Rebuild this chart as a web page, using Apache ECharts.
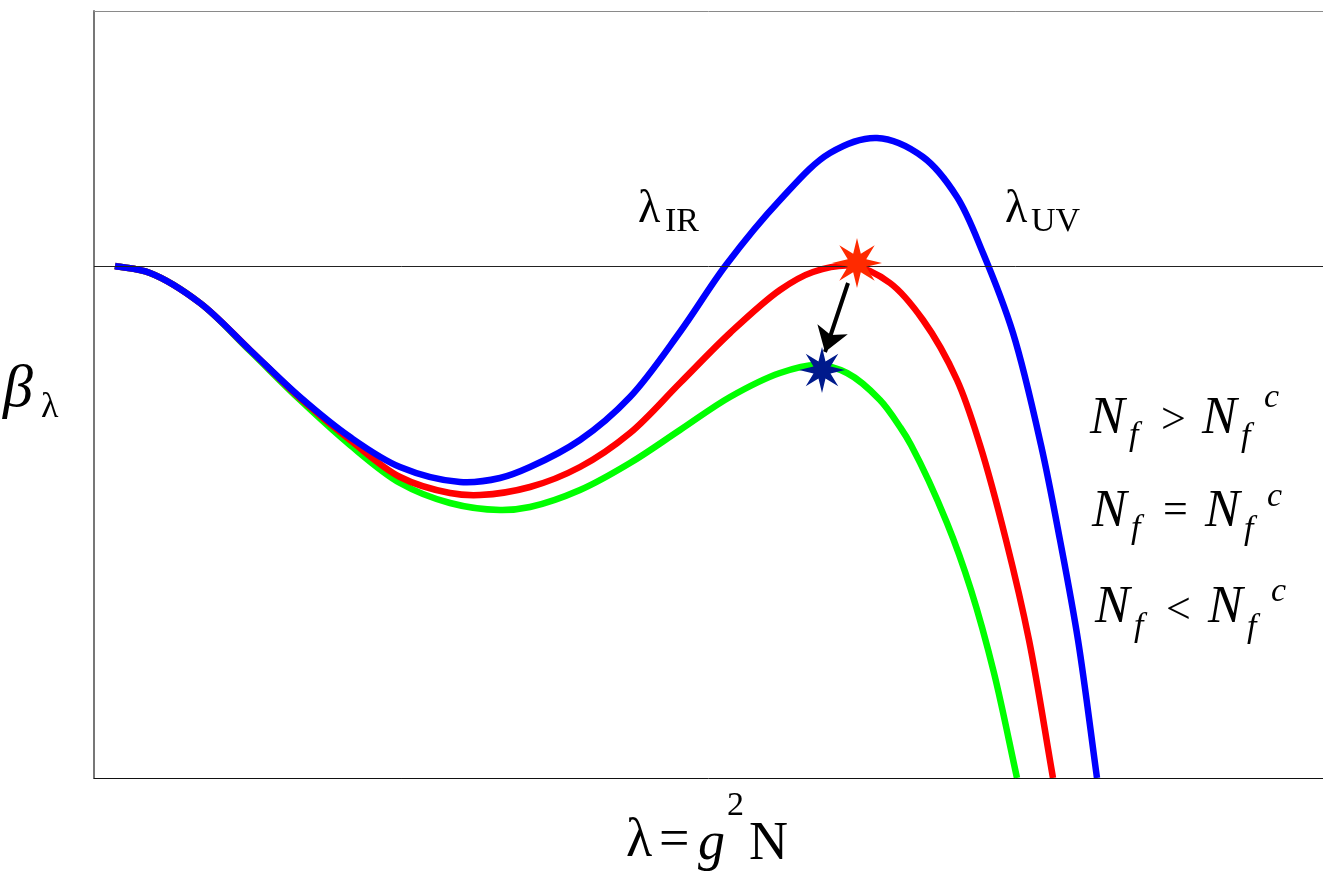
<!DOCTYPE html>
<html>
<head>
<meta charset="utf-8">
<script src="https://cdn.jsdelivr.net/npm/echarts@6/dist/echarts.min.js"></script>
<style>
  html, body { margin: 0; padding: 0; background: #fff; }
  #chart { width: 1323px; height: 874px; }
</style>
</head>
<body>
<div id="chart"></div>
<script>
// curves: [lambda, beta]
const greenCurve = [
  [0.21, 0], [0.56, -0.07], [1.06, -0.37], [1.56, -0.85], [2.06, -1.34], [2.56, -1.79],
  [3.06, -2.17], [3.56, -2.37], [4.06, -2.44], [4.36, -2.41], [4.86, -2.24], [5.36, -1.97],
  [5.86, -1.64], [6.36, -1.31], [6.86, -1.07], [7.23, -0.99], [7.53, -1.07], [7.86, -1.34],
  [8.06, -1.61], [8.17, -1.79], [8.53, -2.57], [8.77, -3.24], [9.00, -4.07], [9.23, -5.12]
]
const redCurve = [
  [0.21, 0], [0.56, -0.07], [1.06, -0.37], [1.56, -0.84], [2.06, -1.32], [2.56, -1.74],
  [3.06, -2.11], [3.56, -2.27], [3.86, -2.29], [4.36, -2.21], [4.86, -2.01], [5.36, -1.67],
  [5.86, -1.17], [6.36, -0.67], [6.86, -0.24], [7.19, -0.06], [7.59, 0], [7.96, -0.17],
  [8.29, -0.54], [8.63, -1.14], [8.86, -1.79], [9.12, -2.74], [9.35, -3.74], [9.59, -5.12]
]
const blueCurve = [
  [0.21, 0], [0.56, -0.07], [1.06, -0.37], [1.56, -0.84], [2.06, -1.31], [2.56, -1.71],
  [3.06, -2.01], [3.66, -2.16], [4.06, -2.12], [4.36, -2.01], [4.86, -1.74],
  [5.36, -1.31], [5.86, -0.66], [6.32, 0.01], [6.86, 0.66], [7.36, 1.13], [7.83, 1.28],
  [8.29, 1.09], [8.63, 0.69], [8.89, 0.13], [9.19, -0.67], [9.47, -1.79], [9.66, -2.74],
  [9.84, -3.74], [10.03, -5.12]
]
const redStar = [[7.63, 0.03]]
const blueStar = [[7.28, -1.04]]
const arrowFrom = [7.54, -0.17]
const arrowTo = [7.31, -0.86]

const serif = 'Liberation Serif'

// 8-pointed star shape
function starPath(n, inner) {
  let d = ''
  for (let i = 0; i < n * 2; i++) {
    const r = i % 2 === 0 ? 1 : inner
    const a = Math.PI * i / n - Math.PI / 2
    const px = (r * Math.cos(a) * 50 + 50).toFixed(2)
    const py = (r * Math.sin(a) * 50 + 50).toFixed(2)
    d += (i === 0 ? 'M' : 'L') + px + ' ' + py + ' '
  }
  return 'path://' + d + 'Z'
}

// centripetal catmull-rom through the points, as one bezier path
function smoothPath(pts) {
  const n = pts.length
  const get = (i) => {
    if (i < 0) return [2 * pts[0][0] - pts[1][0], 2 * pts[0][1] - pts[1][1]]
    if (i >= n) return [2 * pts[n - 1][0] - pts[n - 2][0], 2 * pts[n - 1][1] - pts[n - 2][1]]
    return pts[i]
  }
  const dist = (a, b) => Math.max(Math.sqrt(Math.hypot(a[0] - b[0], a[1] - b[1])), 1e-6)
  let d = 'M' + pts[0][0] + ' ' + pts[0][1]
  for (let i = 0; i < n - 1; i++) {
    const p0 = get(i - 1), p1 = get(i), p2 = get(i + 1), p3 = get(i + 2)
    const a1 = dist(p0, p1), a2 = dist(p1, p2), a3 = dist(p2, p3)
    const b1 = [0, 1].map(k => (a1 * a1 * p2[k] - a2 * a2 * p0[k] + (2 * a1 * a1 + 3 * a1 * a2 + a2 * a2) * p1[k]) / (3 * a1 * (a1 + a2)))
    const b2 = [0, 1].map(k => (a3 * a3 * p1[k] - a2 * a2 * p3[k] + (2 * a3 * a3 + 3 * a3 * a2 + a2 * a2) * p2[k]) / (3 * a3 * (a3 + a2)))
    d += ' C' + b1[0] + ' ' + b1[1] + ' ' + b2[0] + ' ' + b2[1] + ' ' + p2[0] + ' ' + p2[1]
  }
  return d
}

function curveSeries(curve, color, z) {
  return {
    type: 'custom', data: curve, z: z, clip: true,
    encode: { x: 0, y: 1 },
    renderItem: function (params, api) {
      if (params.dataIndex !== 0) return
      const pts = curve.map(p => api.coord(p))
      return {
        type: 'path',
        shape: { pathData: smoothPath(pts) },
        style: { fill: null, stroke: color, lineWidth: 6.5, lineCap: 'butt', lineJoin: 'round' }
      }
    }
  }
}

function t(x, y, text, size, italic) {
  return {
    type: 'text', left: x, top: y - size / 2, z: 100,
    style: {
      text: text, fill: '#000', fontFamily: serif, fontSize: size,
      fontStyle: italic ? 'italic' : 'normal', lineHeight: size
    }
  }
}

const labels = [
  t(3, 390, 'β', 60, true), t(41, 408, 'λ', 36, false),
  t(626, 842, 'λ', 54, false), t(659, 842, '=', 54, false), t(698, 845, 'g', 54, true),
  t(727, 806, '2', 34, false), t(749, 845, 'N', 54, false),
  t(638, 210, 'λ', 46, false), t(665, 222, 'IR', 34, false),
  t(1005, 210, 'λ', 46, false), t(1031, 222, 'UV', 34, false),

  t(1090, 419, 'N', 52, true), t(1129, 436, 'f', 34, true), t(1161, 421, '>', 44, false),
  t(1202, 419, 'N', 52, true), t(1241, 437, 'f', 34, true), t(1264, 398, 'c', 34, true),

  t(1092, 512, 'N', 52, true), t(1131, 529, 'f', 34, true), t(1163, 511, '=', 44, false),
  t(1205, 512, 'N', 52, true), t(1244, 530, 'f', 34, true), t(1267, 497, 'c', 34, true),

  t(1095, 608, 'N', 52, true), t(1134, 627, 'f', 34, true), t(1166, 611, '<', 44, false),
  t(1208, 608, 'N', 52, true), t(1247, 628, 'f', 34, true), t(1271, 592, 'c', 34, true)
]

const chart = echarts.init(document.getElementById('chart'))
chart.setOption({
  animation: false,
  backgroundColor: '#fff',
  grid: { left: 94, right: 0, top: 11, bottom: 96 },
  xAxis: [
    {
      type: 'value', min: 0, max: 12.29,
      axisLine: { onZero: false, lineStyle: { color: '#111', width: 1 } },
      axisTick: { show: false }, axisLabel: { show: false }, splitLine: { show: false }
    },
    {
      type: 'value', min: 0, max: 12.29, position: 'top',
      axisLine: { onZero: false, lineStyle: { color: '#8a8a8a', width: 1 } },
      axisTick: { show: false }, axisLabel: { show: false }, splitLine: { show: false }
    }
  ],
  yAxis: {
    type: 'value', min: -5.12, max: 2.55,
    axisLine: { show: true, onZero: false, lineStyle: { color: '#777', width: 2 } },
    axisTick: { show: false }, axisLabel: { show: false }, splitLine: { show: false }
  },
  series: [
    {
      type: 'scatter', data: [], z: 1,
      markLine: {
        silent: true, symbol: 'none', label: { show: false },
        lineStyle: { color: '#222', width: 1, type: 'solid' },
        data: [{ yAxis: 0 }]
      }
    },
    curveSeries(greenCurve, '#00ff00', 2),
    curveSeries(redCurve, '#ff0000', 3),
    curveSeries(blueCurve, '#0000ff', 4),
    {
      type: 'scatter', data: redStar, symbol: starPath(8, 0.4), symbolSize: 50,
      itemStyle: { color: '#ff2a00', opacity: 1 }, z: 10
    },
    {
      type: 'scatter', data: blueStar, symbol: starPath(8, 0.4), symbolSize: 46,
      itemStyle: { color: '#001a8c', opacity: 1 }, z: 10,
      markLine: {
        silent: true, symbol: ['none', 'arrow'], symbolSize: 24, label: { show: false },
        lineStyle: { color: '#000', width: 4, type: 'solid' },
        data: [[{ coord: arrowFrom }, { coord: arrowTo }]]
      }
    }
  ],
  graphic: labels
})
</script>
</body>
</html>
